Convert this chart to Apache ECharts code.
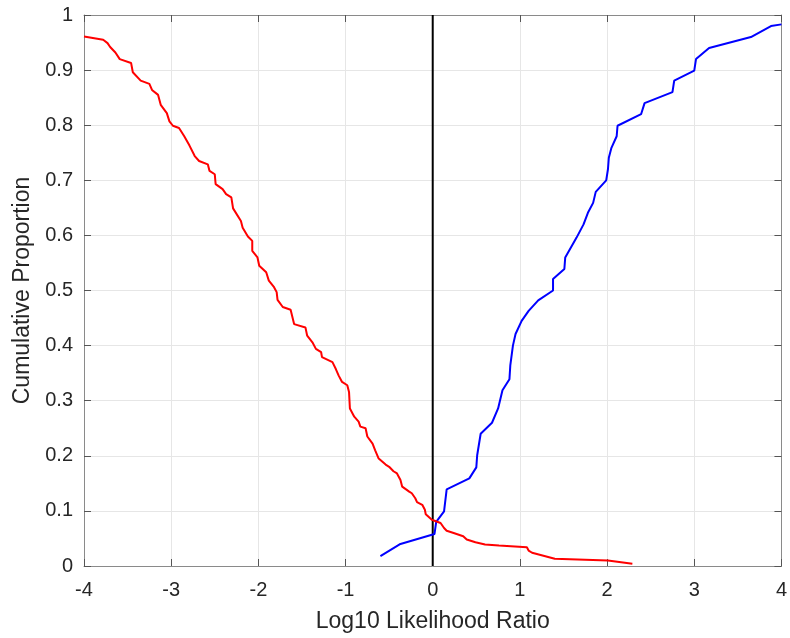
<!DOCTYPE html>
<html><head><meta charset="utf-8">
<script src="https://cdn.jsdelivr.net/npm/echarts@6/dist/echarts.min.js"></script>
<style>html,body{margin:0;padding:0;background:#fff}#c{width:790px;height:638px}</style>
</head><body><div id="c"></div>
<script>
var xTicks = [-4,-3,-2,-1,0,1,2,3,4];
var yTicks = [0,0.1,0.2,0.3,0.4,0.5,0.6,0.7,0.8,0.9,1];
var redX = [-4.00,-3.78,-3.73,-3.70,-3.64,-3.59,-3.46,-3.44,-3.35,-3.25,-3.22,-3.15,-3.12,-3.05,-3.02,-2.98,-2.91,-2.85,-2.79,-2.73,-2.68,-2.58,-2.56,-2.50,-2.49,-2.41,-2.37,-2.31,-2.29,-2.20,-2.18,-2.12,-2.07,-2.07,-2.01,-1.99,-1.91,-1.88,-1.82,-1.79,-1.78,-1.72,-1.63,-1.59,-1.46,-1.44,-1.38,-1.34,-1.28,-1.27,-1.15,-1.11,-1.08,-1.04,-0.98,-0.96,-0.95,-0.90,-0.85,-0.83,-0.77,-0.75,-0.69,-0.66,-0.62,-0.54,-0.50,-0.45,-0.41,-0.37,-0.35,-0.27,-0.24,-0.20,-0.18,-0.12,-0.09,-0.08,-0.01,0.09,0.13,0.16,0.24,0.35,0.39,0.49,0.60,0.76,1.08,1.10,1.14,1.40,2.01,2.29];
var redY = [0.961,0.955,0.949,0.942,0.932,0.920,0.913,0.896,0.881,0.875,0.864,0.855,0.837,0.822,0.807,0.799,0.795,0.780,0.763,0.744,0.735,0.729,0.717,0.711,0.693,0.684,0.675,0.669,0.649,0.626,0.614,0.598,0.590,0.572,0.560,0.545,0.533,0.518,0.506,0.497,0.483,0.470,0.465,0.439,0.433,0.418,0.406,0.394,0.388,0.379,0.370,0.357,0.346,0.334,0.328,0.316,0.286,0.271,0.262,0.253,0.250,0.235,0.222,0.210,0.195,0.184,0.180,0.172,0.168,0.156,0.144,0.135,0.132,0.123,0.116,0.111,0.102,0.094,0.084,0.078,0.069,0.064,0.060,0.054,0.048,0.043,0.039,0.037,0.034,0.028,0.024,0.013,0.010,0.004];
var blueX = [-0.60,-0.37,0.02,0.04,0.13,0.16,0.42,0.50,0.51,0.55,0.68,0.75,0.80,0.88,0.89,0.92,0.95,1.02,1.10,1.21,1.38,1.38,1.51,1.52,1.65,1.73,1.78,1.84,1.87,1.99,2.01,2.02,2.05,2.11,2.12,2.39,2.43,2.75,2.77,3.00,3.02,3.17,3.65,3.88,4.00];
var blueY = [0.018,0.040,0.058,0.080,0.099,0.139,0.159,0.179,0.201,0.240,0.260,0.286,0.319,0.339,0.364,0.400,0.421,0.445,0.463,0.482,0.500,0.521,0.539,0.560,0.596,0.620,0.641,0.659,0.679,0.700,0.720,0.741,0.759,0.780,0.799,0.820,0.840,0.860,0.881,0.899,0.920,0.940,0.960,0.980,0.983];
var refX = [0,0];
var refY = [0,1];

function zip(a,b){return a.map(function(v,i){return [v,b[i]];});}
var chart = echarts.init(document.getElementById('c'));
var font = '"Liberation Sans", Arial, Helvetica, sans-serif';
var tickLbl = {color:'#262626', fontSize:20, fontFamily:font};
chart.setOption({
  animation:false,
  backgroundColor:'#fff',
  grid:{left:84, right:6, top:15, bottom:70, show:false},
  xAxis:[{type:'value', min:xTicks[0], max:xTicks[xTicks.length-1], interval:1,
    name:'Log10 Likelihood Ratio', nameLocation:'middle', nameGap:44,
    nameTextStyle:{color:'#262626', fontSize:23, fontFamily:font},
    axisLine:{onZero:false, lineStyle:{color:'#8a8a8a', width:1}},
    axisTick:{inside:true, length:7, lineStyle:{color:'#555'}},
    axisLabel:Object.assign({margin:14}, tickLbl),
    splitLine:{show:true, lineStyle:{color:'#e6e6e6', width:1}}},
   {type:'value', position:'top', min:-4, max:4, interval:1,
    axisLine:{show:true, onZero:false, lineStyle:{color:'#8a8a8a'}},
    axisTick:{show:true, inside:true, length:7, lineStyle:{color:'#555'}},
    axisLabel:{show:false}, splitLine:{show:false}}],
  yAxis:[{type:'value', min:yTicks[0], max:yTicks[yTicks.length-1], interval:0.1,
    name:'Cumulative Proportion', nameLocation:'middle', nameGap:49,
    nameTextStyle:{color:'#262626', fontSize:23, fontFamily:font},
    axisLine:{show:true, onZero:false, lineStyle:{color:'#8a8a8a', width:1}},
    axisTick:{show:true, inside:true, length:7, lineStyle:{color:'#555'}},
    axisLabel:Object.assign({margin:11, formatter:function(v){return String(Math.round(v*10)/10);}}, tickLbl),
    splitLine:{show:true, lineStyle:{color:'#e6e6e6', width:1}}},
   {type:'value', position:'right', min:0, max:1, interval:0.1,
    axisLine:{show:true, onZero:false, lineStyle:{color:'#8a8a8a'}},
    axisTick:{show:true, inside:true, length:7, lineStyle:{color:'#555'}},
    axisLabel:{show:false}, splitLine:{show:false}}],
  series:[
    {type:'line', data:zip(refX,refY), showSymbol:false, lineStyle:{color:'#000', width:2}, z:3},
    {type:'line', data:zip(blueX,blueY), showSymbol:false, lineStyle:{color:'#0000ff', width:2}, z:4},
    {type:'line', data:zip(redX,redY), showSymbol:false, lineStyle:{color:'#ff0000', width:2}, z:5}
  ]
});
</script></body></html>
